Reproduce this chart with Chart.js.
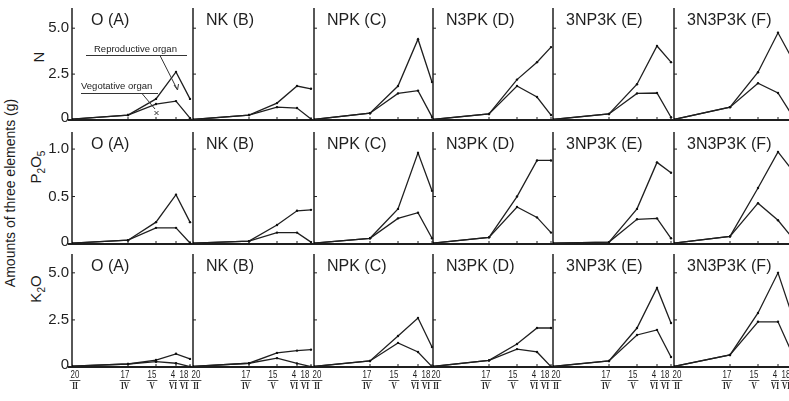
<!DOCTYPE html>
<html>
<head>
<meta charset="utf-8">
<script src="https://cdn.jsdelivr.net/npm/chart.js@4.4.1/dist/chart.umd.min.js"></script>
<style>
  html, body { margin: 0; padding: 0; background: #fff; overflow: hidden; }
  #page { position: relative; width: 789px; height: 401px; overflow: hidden; }
  #page canvas { position: absolute; }
  .lab { position: absolute; font-family: 'Liberation Sans', Arial, sans-serif; color: #1c1c1c; white-space: nowrap;
         transform: translate(-50%, -50%) rotate(-90deg); }
</style>
</head>
<body>
<div id="page">
  <div class="lab" style="left:10px; top:193px; font-size:14px;">Amounts of three elements (g)</div>
  <div class="lab" style="left:38px; top:57px; font-size:15px;">N</div>
  <div class="lab" style="left:37px; top:167px; font-size:15px;">P<sub style="font-size:10px">2</sub>O<sub style="font-size:10px">5</sub></div>
  <div class="lab" style="left:37px; top:289px; font-size:15px;">K<sub style="font-size:10px">2</sub>O</div>
  <svg width="789" height="401" style="position:absolute; left:0; top:0; z-index:2;" font-family="Liberation Sans, Arial, sans-serif" font-size="9.5" fill="#222">
    <text x="94" y="52">Reproductive organ</text>
    <line x1="86" y1="55.5" x2="187" y2="55.5" stroke="#333" stroke-width="1"/>
    <line x1="160" y1="55.5" x2="177" y2="89" stroke="#333" stroke-width="1"/>
    <path d="M174 85 L177.5 90 L178.5 84" stroke="#333" fill="none" stroke-width="1"/>
    <text x="81" y="89">Vegotative organ</text>
    <line x1="81" y1="93.5" x2="158" y2="93.5" stroke="#333" stroke-width="1"/>
    <line x1="142" y1="93.5" x2="155" y2="109" stroke="#333" stroke-width="1"/>
    <path d="M154.5 111 L158.5 115 M158.5 111 L154.5 115" stroke="#333" stroke-width="1"/>
  </svg>
</div>
<script>
// sampling dates (day / month) and their day of the year
const dateDay = ['20', '17', '15', '4', '18'];
const dateMonth = ['II', 'IV', 'V', 'VI', 'VI'];
const dayOfYear = [51, 107, 135, 155, 169];

const treatments = ['O (A)', 'NK (B)', 'NPK (C)', 'N3PK (D)', '3NP3K (E)', '3N3P3K (F)'];

// N (g)
const nReproductive = [
  [0.05, 0.27, 1.15, 2.62, 1.15],
  [0.03, 0.27, 0.92, 1.85, 1.70],
  [0.03, 0.37, 1.85, 4.40, 2.07],
  [0.03, 0.33, 2.20, 3.15, 3.97],
  [0.03, 0.33, 1.95, 4.03, 3.15],
  [0.03, 0.70, 2.60, 4.75, 3.35]
];
const nVegetative = [
  [0.05, 0.27, 0.87, 1.03, 0.10],
  [0.03, 0.27, 0.70, 0.65, 0.05],
  [0.03, 0.37, 1.45, 1.60, 0.17],
  [0.03, 0.33, 1.85, 1.25, 0.27],
  [0.03, 0.33, 1.45, 1.47, 0.15],
  [0.03, 0.70, 2.00, 1.47, 0.27]
];

// P2O5 (g)
const pReproductive = [
  [0.01, 0.04, 0.23, 0.52, 0.23],
  [0.01, 0.03, 0.20, 0.35, 0.36],
  [0.01, 0.06, 0.37, 0.96, 0.56],
  [0.01, 0.07, 0.50, 0.88, 0.88],
  [0.01, 0.02, 0.37, 0.86, 0.75],
  [0.01, 0.08, 0.59, 0.97, 0.78]
];
const pVegetative = [
  [0.01, 0.04, 0.17, 0.17, 0.01],
  [0.01, 0.03, 0.12, 0.12, 0.02],
  [0.01, 0.06, 0.27, 0.33, 0.06],
  [0.01, 0.07, 0.39, 0.28, 0.12],
  [0.01, 0.02, 0.26, 0.27, 0.06],
  [0.01, 0.08, 0.43, 0.25, 0.07]
];

// K2O (g)
const kReproductive = [
  [0.05, 0.16, 0.37, 0.70, 0.43],
  [0.03, 0.20, 0.75, 0.87, 0.92],
  [0.03, 0.32, 1.65, 2.60, 1.06],
  [0.03, 0.35, 1.22, 2.07, 2.07],
  [0.03, 0.32, 2.07, 4.20, 2.34],
  [0.03, 0.64, 2.87, 5.00, 2.77]
];
const kVegetative = [
  [0.05, 0.16, 0.28, 0.20, 0.02],
  [0.03, 0.20, 0.47, 0.19, 0.02],
  [0.03, 0.32, 1.28, 0.80, 0.02],
  [0.03, 0.35, 0.95, 0.80, 0.02],
  [0.03, 0.32, 1.70, 1.97, 0.53],
  [0.03, 0.64, 2.40, 2.40, 0.74]
];

const yTickValues = [[0, 2.5, 5], [0, 0.5, 1], [0, 2.5, 5]];
const yTickText = [['0', '2.5', '5.0'], ['0', '0.5', '1.0'], ['0', '2.5', '5.0']];

// layout of the 3 x 6 grid
const rowsData = [[nReproductive, nVegetative], [pReproductive, pVegetative], [kReproductive, kVegetative]];
const yMax = [6.1, 1.18, 6.0];
const colX = [72, 193, 314, 433, 553, 674];
const rowTop = [8, 132, 254];
const rowBase = [120, 244, 367];
const xMin = 51, xMax = 171;
const PAD = 6;
const labelShift = [3, -3, -4, -3, -6];

const INK = '#1f1f1f';
const SANS = "'Liberation Sans', Arial, sans-serif";

// squeezed text for the hand-lettered date labels
function narrowText(ctx, text, x, y, squeeze) {
  ctx.save();
  ctx.translate(x, y);
  ctx.scale(squeeze, 1);
  ctx.fillText(text, 0, 0);
  ctx.restore();
}

// axes, ticks, tick labels and panel titles
const panelFrame = {
  id: 'panelFrame',
  beforeDatasetsDraw(chart, args, opts) {
    const { ctx } = chart;
    const xs = chart.scales.x, ys = chart.scales.y;
    const left = xs.getPixelForValue(xMin);
    const right = xs.getPixelForValue(xMax);
    const base = ys.getPixelForValue(0);
    const top = ys.getPixelForValue(yMax[opts.row]);
    ctx.save();
    ctx.strokeStyle = INK;
    ctx.fillStyle = INK;

    // y axis
    ctx.lineWidth = 1.5;
    ctx.beginPath();
    ctx.moveTo(left, top);
    ctx.lineTo(left, base + 1);
    ctx.stroke();

    // baseline
    ctx.lineWidth = 2;
    ctx.beginPath();
    ctx.moveTo(opts.col === 0 ? left - 4 : left, base);
    ctx.lineTo(right + 2, base);
    ctx.stroke();

    // inward ticks
    ctx.lineWidth = 1;
    yTickValues[opts.row].slice(1).forEach(v => {
      const py = ys.getPixelForValue(v);
      ctx.beginPath();
      ctx.moveTo(left, py);
      ctx.lineTo(left + 3, py);
      ctx.stroke();
    });
    dayOfYear.slice(1).forEach(d => {
      const px = xs.getPixelForValue(d);
      ctx.beginPath();
      ctx.moveTo(px, base);
      ctx.lineTo(px, base - 3);
      ctx.stroke();
    });

    // value labels on the first column
    if (opts.col === 0) {
      ctx.font = '15px ' + SANS;
      ctx.textAlign = 'right';
      ctx.textBaseline = 'middle';
      yTickValues[opts.row].forEach((v, i) => {
        ctx.fillText(yTickText[opts.row][i], left - 3, ys.getPixelForValue(v) - (i === 0 ? 2 : 0));
      });
    }

    // date labels under the last row
    if (opts.row === 2) {
      ctx.textAlign = 'center';
      ctx.textBaseline = 'middle';
      dayOfYear.forEach((d, i) => {
        const px = xs.getPixelForValue(d) + labelShift[i];
        ctx.font = '11px ' + SANS;
        narrowText(ctx, dateDay[i], px, base + 8, 0.72);
        const w = Math.max(ctx.measureText(dateDay[i]).width * 0.72, 6) + 2;
        ctx.lineWidth = 0.8;
        ctx.beginPath();
        ctx.moveTo(px - w / 2, base + 13.5);
        ctx.lineTo(px + w / 2, base + 13.5);
        ctx.stroke();
        ctx.font = 'bold 10px "Liberation Serif", serif';
        narrowText(ctx, dateMonth[i], px, base + 19, 0.72);
      });
    }

    // panel title
    ctx.font = '16px ' + SANS;
    ctx.textAlign = 'left';
    ctx.textBaseline = 'alphabetic';
    ctx.fillText(treatments[opts.col], left + (opts.col === 0 ? 19 : 13), top + 17);
    ctx.restore();
  }
};

const page = document.getElementById('page');

function series(values) {
  return values.map((v, i) => ({ x: dayOfYear[i], y: v }));
}

rowsData.forEach((pair, r) => {
  colX.forEach((x0, c) => {
    const padL = c === 0 ? 40 : PAD;
    const padB = r === 2 ? 28 : PAD;
    const w = (xMax - xMin) + padL + PAD;
    const h = (rowBase[r] - rowTop[r]) + PAD + padB;
    const cv = document.createElement('canvas');
    cv.width = w;
    cv.height = h;
    cv.style.left = (x0 - padL) + 'px';
    cv.style.top = (rowTop[r] - PAD) + 'px';
    cv.style.width = w + 'px';
    cv.style.height = h + 'px';
    page.appendChild(cv);

    const lineStyle = {
      borderColor: INK,
      borderWidth: 1.3,
      pointRadius: 1.2,
      pointBackgroundColor: '#111',
      pointBorderWidth: 0,
      tension: 0,
      fill: false
    };

    new Chart(cv, {
      type: 'line',
      data: {
        datasets: [
          Object.assign({ label: 'Reproductive organ', data: series(pair[0][c]) }, lineStyle),
          Object.assign({ label: 'Vegetative organ', data: series(pair[1][c]) }, lineStyle)
        ]
      },
      options: {
        responsive: false,
        animation: false,
        devicePixelRatio: 1,
        layout: { padding: { left: padL, right: PAD, top: PAD, bottom: padB } },
        plugins: {
          legend: { display: false },
          tooltip: { enabled: false },
          panelFrame: { row: r, col: c }
        },
        scales: {
          x: { type: 'linear', min: xMin, max: xMax, display: false },
          y: { min: 0, max: yMax[r], display: false }
        }
      },
      plugins: [panelFrame]
    });
  });
});
</script>
</body>
</html>
